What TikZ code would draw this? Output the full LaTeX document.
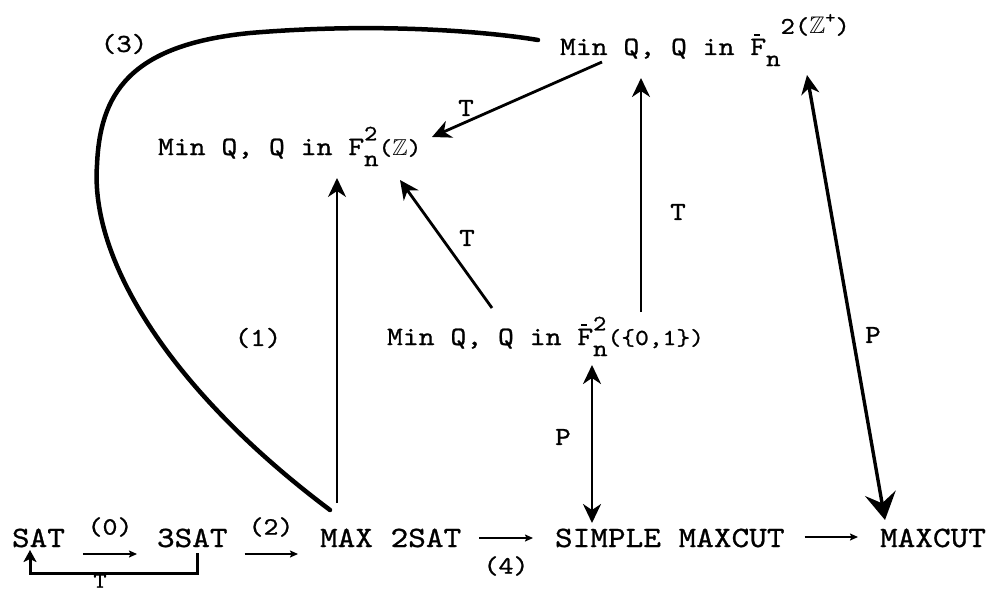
\documentclass[tikz,border=0pt]{standalone}
\usepackage{fontspec}
\usepackage{amssymb}
\setmainfont{lmmono10-regular.otf}[FakeStretch=1.14,FakeBold=0.9]
\usetikzlibrary{arrows.meta,calc}
\newcommand\fbar{\makebox[0pt][l]{\hspace{0.15em}\raisebox{0.72em}{\rule{0.22em}{0.07em}}}F}
\newcommand\stk[2]{\makebox[0pt][l]{\raisebox{0.55em}{\fontsize{22}{22}\selectfont #1}}\raisebox{-0.42em}{\fontsize{24}{24}\selectfont #2}}
\newcommand\ZZ{$\mathbb{Z}$}
\begin{document}
\begin{tikzpicture}[x=1pt,y=-1pt,
 every node/.style={inner sep=0pt, outer sep=0pt},
 top/.style={font=\fontsize{26.5}{30}\selectfont, anchor=base west},
 bot/.style={font=\fontsize{29.5}{32}\selectfont, anchor=base west},
 lbl/.style={font=\fontsize{26}{28}\selectfont},
 slbl/.style={font=\fontsize{25}{26}\selectfont},
 tarr/.style={line width=2.8pt, -{Stealth[length=19pt,width=18pt,inset=6pt]}},
 varr/.style={line width=2.2pt, -{Stealth[length=19pt,width=18pt,inset=6pt]}},
 parr/.style={line width=2.8pt, {Stealth[length=19pt,width=18pt,inset=6pt]}-{Stealth[length=19pt,width=18pt,inset=6pt]}},
 pbig/.style={line width=3.4pt, {Stealth[length=19pt,width=18pt,inset=6pt]}-{Stealth[length=27pt,width=31pt,inset=10pt]}},
 sarr/.style={line width=2pt, -{Stealth[length=8pt,width=7pt,inset=1.5pt]}},
 brk/.style={line width=3pt, -{Stealth[length=12pt,width=13pt,inset=3pt]}},
 curve/.style={line width=4.5pt, line cap=round},
]
\useasboundingbox (0,0) rectangle (995,594);

% main nodes
\node[top] (tr) at (560,55) {Min Q, Q in \fbar\raisebox{-0.42em}{\fontsize{24}{24}\selectfont n}\raisebox{0.8em}{\fontsize{24}{24}\selectfont 2(\ZZ\raisebox{0.45em}{\fontsize{17}{17}\selectfont +})}};
\node[top] (lq) at (158,155) {Min Q, Q in F\stk{2}{n}{\fontsize{23}{23}\selectfont(\ZZ)}};
\node[top] (mq) at (387,345) {Min Q, Q in \fbar\stk{2}{n}{\fontsize{23}{23}\selectfont(\{0,1\})}};

\node[bot] (sat) at (12,547) {SAT};
\node[bot] (s3) at (157,547) {3SAT};
\node[bot] (m2) at (320,547) {MAX 2SAT};
\node[bot] (smc) at (555,547) {SIMPLE MAXCUT};
\node[bot] (mc) at (880,547) {MAXCUT};

% bottom arrows
\draw[sarr] ($(sat.base east)+(18,7)$) -- ($(s3.base west)+(-20,7)$);
\draw[sarr] ($(s3.base east)+(17,7)$) -- ($(m2.base west)+(-22,7)$);
\draw[sarr] ($(m2.base east)+(18,-9)$) -- ($(smc.base west)+(-22,-9)$);
\draw[sarr] ($(smc.base east)+(20,-10)$) -- ($(mc.base west)+(-22,-10)$);
\node[slbl] (l0) at (110,527) {(0)};
\node[slbl] (l2) at (271,527) {(2)};
\node[slbl] (l4) at (506,566) {(4)};

% bracket
\draw[brk] ($(s3.base west)+(40,6)$) |- ($(sat.base west)+(18,26)$) -- ($(sat.base west)+(18,3)$);
\node[slbl, font=\fontsize{22}{24}\selectfont] (lt) at (100,581) {T};

% upper arrows
\draw[tarr] ($(tr.base west)+(42,7)$) -- ($(lq.base west)+(274,-18)$);
\draw[tarr] ($(mq.base west)+(105,-37)$) -- ($(lq.base west)+(242,25)$);
\draw[tarr] ($(mq.base west)+(254,-33)$) -- ($(tr.base west)+(81,23)$);
\draw[varr] ($(m2.base west)+(17,-44)$) -- ($(lq.base west)+(179,23)$);
\draw[parr] ($(mq.base west)+(205,20)$) -- ($(smc.base west)+(37,-24)$);
\draw[pbig] ($(tr.base west)+(247,20)$) -- ($(mc.base west)+(5,-27)$);

% curve (3)
\draw[curve] ($(m2.base west)+(10,-37)$) .. controls (170,390) and (90,260) .. (97,165) .. controls (100,95) and (128,45) .. (250,33) .. controls (380,22) and (490,32) .. ($(tr.base west)+(-22,-15)$);

% labels
\node[lbl] (t1) at (466,108) {T};
\node[lbl] (t2) at (467,238) {T};
\node[lbl] (t3) at (678,212) {T};
\node[lbl] (n1) at (258,338) {(1)};
\node[lbl] (n3) at (124,44) {(3)};
\node[lbl] (p1) at (563,437) {P};
\node[lbl] (p2) at (873,335) {P};
\end{tikzpicture}
\end{document}
